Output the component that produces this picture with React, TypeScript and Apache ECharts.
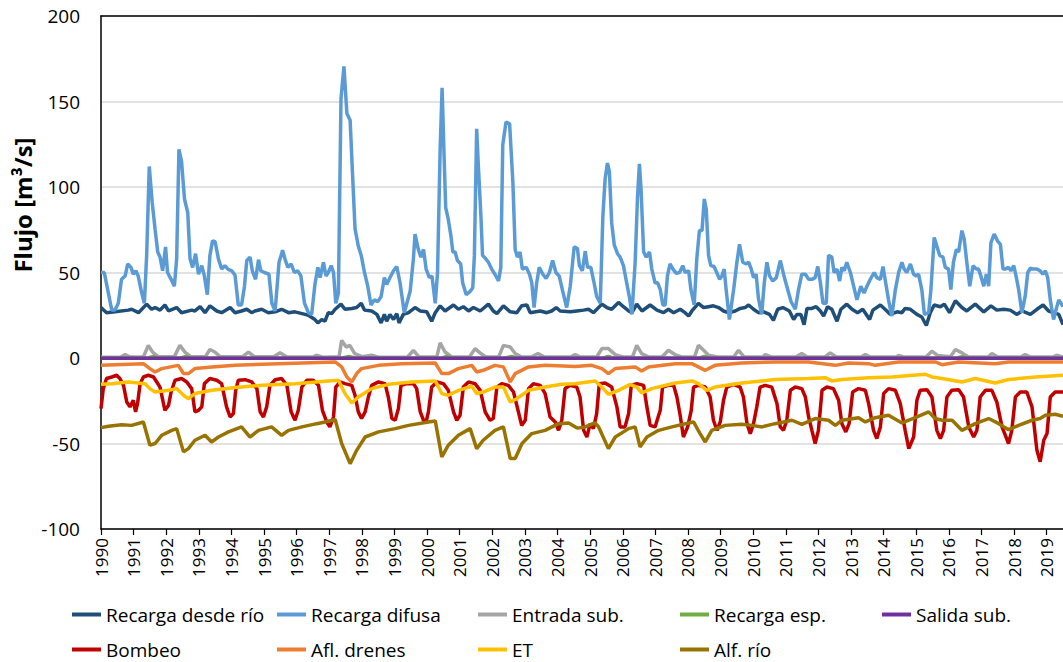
import React, { useEffect, useRef } from "react";
import * as echarts from "echarts";

type Pt = [number, number];

const yearTicks = { min: 1990, max: 2019.5, interval: 1 };
const yTicks = { min: -100, max: 200, interval: 50 };

const seriesNames = [
  "Recarga desde río",
  "Recarga difusa",
  "Entrada sub.",
  "Recarga esp.",
  "Salida sub.",
  "Bombeo",
  "Afl. drenes",
  "ET",
  "Alf. río",
];

const seriesColors = [
  "#1F4E79",
  "#5B9BD5",
  "#A5A5A5",
  "#70AD47",
  "#7030A0",
  "#C00000",
  "#ED7D31",
  "#FFC000",
  "#997300",
];

const recargaRio: Pt[] = [
  [1990.0, 29.5], [1990.17, 26.5], [1990.43, 27], [1990.84, 28], [1990.94, 28.5], [1991.15, 26.5], [1991.4, 31.5],
  [1991.55, 28.5], [1991.66, 29.5], [1991.81, 28], [1991.96, 31], [1992.07, 27.5], [1992.32, 29.5], [1992.47, 26.5],
  [1992.78, 28], [1992.88, 27.5], [1993.04, 30], [1993.19, 26.5], [1993.34, 30.5], [1993.55, 27.5], [1993.7, 26.5],
  [1993.96, 29.5], [1994.11, 26.5], [1994.31, 27.5], [1994.47, 28.5], [1994.62, 26.5], [1994.72, 27.5], [1994.93, 28.5],
  [1995.13, 26.5], [1995.34, 27], [1995.54, 28.5], [1995.75, 26.5], [1995.95, 27], [1996.26, 25.5], [1996.36, 25],
  [1996.56, 22.5], [1996.65, 20.5], [1996.77, 22.5], [1996.87, 21.5], [1996.97, 26.5], [1997.08, 26], [1997.18, 28.5],
  [1997.36, 31.5], [1997.48, 28.5], [1997.69, 29], [1997.84, 29.5], [1997.98, 32], [1998.08, 28], [1998.3, 27.5],
  [1998.46, 25.5], [1998.59, 20.5], [1998.69, 25.5], [1998.76, 21.5], [1998.86, 25.5], [1998.97, 22.5], [1999.07, 26],
  [1999.14, 20.5], [1999.27, 25.5], [1999.43, 26.5], [1999.63, 29.5], [1999.79, 27.5], [1999.99, 27], [2000.14, 21.5],
  [2000.25, 26.5], [2000.4, 30.5], [2000.55, 27.5], [2000.81, 31], [2000.96, 28.5], [2001.11, 30], [2001.27, 27.5],
  [2001.42, 29.5], [2001.63, 27.5], [2001.88, 31.5], [2002.03, 27.5], [2002.14, 26], [2002.34, 30.5], [2002.55, 27],
  [2002.75, 26.5], [2002.9, 30.5], [2003.06, 31], [2003.16, 26.5], [2003.47, 27.5], [2003.67, 26.5], [2003.82, 27.5],
  [2003.96, 29.5], [2004.08, 27.5], [2004.39, 27], [2004.59, 27.5], [2004.8, 28], [2004.95, 28.5], [2005.1, 26.5],
  [2005.36, 31.5], [2005.51, 29.5], [2005.66, 28.5], [2005.87, 32.5], [2006.02, 30], [2006.18, 27.5], [2006.28, 26.5],
  [2006.43, 31.5], [2006.59, 27.5], [2006.84, 31], [2007.05, 28], [2007.25, 26.5], [2007.4, 28.5], [2007.56, 26.5],
  [2007.76, 28.5], [2007.91, 26.5], [2008.02, 24.5], [2008.12, 27.5], [2008.32, 32], [2008.48, 29.5], [2008.63, 30],
  [2008.78, 30.5], [2008.94, 29.5], [2009.09, 27.5], [2009.24, 26.5], [2009.45, 27.5], [2009.6, 29], [2009.75, 29.5],
  [2009.86, 31], [2010.01, 28.5], [2010.16, 26.5], [2010.32, 27], [2010.5, 25.5], [2010.62, 22], [2010.75, 28.5],
  [2010.91, 29.5], [2011.11, 27.5], [2011.24, 22.5], [2011.34, 25.5], [2011.46, 25.5], [2011.56, 19.5], [2011.65, 29],
  [2011.8, 29], [2011.93, 30], [2012.06, 27.5], [2012.16, 24.5], [2012.28, 30], [2012.41, 28.5], [2012.57, 21.5],
  [2012.69, 28.5], [2012.87, 31.5], [2013.03, 28.5], [2013.2, 26.5], [2013.36, 28.5], [2013.57, 22.5], [2013.67, 28],
  [2013.9, 31], [2014.1, 27.5], [2014.2, 25.5], [2014.41, 27], [2014.56, 26.5], [2014.66, 29], [2014.82, 28.5],
  [2015.02, 25.5], [2015.17, 24], [2015.31, 19], [2015.43, 26.5], [2015.55, 31], [2015.74, 30], [2015.86, 31.5],
  [2016.02, 26.5], [2016.2, 33.5], [2016.4, 29.5], [2016.55, 27.5], [2016.81, 31.5], [2017.07, 27], [2017.29, 30.5],
  [2017.47, 28], [2017.68, 28.5], [2017.88, 28], [2018.09, 25.5], [2018.24, 27.5], [2018.5, 25.5], [2018.7, 28.5],
  [2018.89, 31], [2019.06, 27.5], [2019.21, 26.5], [2019.37, 25.5], [2019.5, 19.5],
];

const recargaDifusa: Pt[] = [
  [1990.0, 50], [1990.1, 50], [1990.33, 28], [1990.43, 28], [1990.53, 32], [1990.63, 46], [1990.74, 48], [1990.82, 55],
  [1990.92, 53], [1990.99, 49], [1991.07, 51], [1991.14, 48], [1991.25, 38], [1991.33, 32], [1991.4, 60], [1991.48, 112],
  [1991.57, 91], [1991.66, 75], [1991.74, 62], [1991.81, 59], [1991.89, 51], [1991.98, 65], [1992.04, 50], [1992.15, 46],
  [1992.25, 42], [1992.32, 58], [1992.39, 122], [1992.47, 115], [1992.56, 93], [1992.66, 85], [1992.73, 58], [1992.81, 53],
  [1992.9, 61], [1992.99, 49], [1993.09, 54], [1993.17, 48], [1993.26, 37], [1993.34, 60], [1993.42, 68.5], [1993.5, 68],
  [1993.6, 58], [1993.7, 52], [1993.8, 54], [1993.89, 52], [1994.01, 51], [1994.11, 48.5], [1994.21, 31], [1994.31, 31],
  [1994.4, 42], [1994.47, 57], [1994.57, 59], [1994.64, 51], [1994.74, 46], [1994.83, 57.5], [1994.9, 51], [1995.01, 50],
  [1995.15, 49], [1995.24, 32], [1995.34, 27.5], [1995.46, 56], [1995.57, 63], [1995.64, 58], [1995.73, 53], [1995.83, 55],
  [1995.93, 50], [1996.03, 51], [1996.13, 48], [1996.24, 32], [1996.36, 26.5], [1996.46, 25.5], [1996.56, 43], [1996.65, 53],
  [1996.72, 47], [1996.82, 56], [1996.9, 48], [1996.97, 50], [1997.06, 54], [1997.13, 50], [1997.2, 32], [1997.28, 38],
  [1997.36, 152], [1997.45, 170.5], [1997.54, 143], [1997.64, 139], [1997.71, 109], [1997.79, 75.5], [1997.89, 65.5],
  [1997.98, 60], [1998.08, 50], [1998.18, 42], [1998.28, 31], [1998.38, 34], [1998.49, 33], [1998.59, 36], [1998.69, 47],
  [1998.76, 43], [1998.86, 47], [1998.97, 51], [1999.07, 53.5], [1999.17, 44], [1999.3, 26.5], [1999.48, 39], [1999.58, 58],
  [1999.63, 72.5], [1999.73, 63.5], [1999.81, 59], [1999.89, 63.5], [1999.97, 52], [2000.07, 47], [2000.15, 48],
  [2000.25, 32], [2000.32, 50], [2000.4, 122], [2000.46, 158], [2000.52, 118.5], [2000.57, 88], [2000.65, 81],
  [2000.73, 71.5], [2000.79, 62], [2000.86, 62], [2000.93, 57], [2001.03, 55], [2001.09, 44], [2001.2, 37], [2001.32, 39],
  [2001.4, 41], [2001.45, 60], [2001.52, 134], [2001.57, 113], [2001.65, 83], [2001.7, 60], [2001.8, 58], [2001.88, 56],
  [2001.98, 52], [2002.08, 49], [2002.19, 45], [2002.26, 53], [2002.32, 124.5], [2002.42, 138], [2002.53, 137],
  [2002.63, 103], [2002.7, 63.5], [2002.77, 59], [2002.85, 62], [2002.92, 52], [2003.04, 53], [2003.14, 49], [2003.21, 44],
  [2003.28, 29.5], [2003.36, 44], [2003.44, 53], [2003.55, 49], [2003.65, 46.5], [2003.75, 50], [2003.85, 57], [2003.95, 50],
  [2004.05, 48], [2004.16, 39], [2004.28, 29.5], [2004.39, 42], [2004.51, 65], [2004.61, 64], [2004.67, 54], [2004.76, 51],
  [2004.85, 62.5], [2004.92, 53], [2005.02, 53], [2005.12, 44], [2005.2, 36], [2005.31, 32], [2005.39, 83], [2005.46, 105],
  [2005.53, 114], [2005.59, 109], [2005.66, 79], [2005.74, 66], [2005.84, 61], [2005.92, 59], [2006.02, 54], [2006.12, 44],
  [2006.21, 35], [2006.28, 25.5], [2006.38, 56], [2006.45, 93], [2006.51, 113.5], [2006.56, 99], [2006.64, 62],
  [2006.72, 59], [2006.82, 62], [2006.89, 52], [2006.99, 44], [2007.07, 44], [2007.15, 40], [2007.23, 31], [2007.3, 31],
  [2007.37, 48], [2007.45, 55], [2007.54, 52], [2007.64, 49.5], [2007.74, 50], [2007.84, 54], [2007.91, 50], [2008.02, 51],
  [2008.09, 40], [2008.19, 31], [2008.27, 58], [2008.35, 74.5], [2008.43, 74.5], [2008.5, 93], [2008.56, 87], [2008.63, 60],
  [2008.7, 54], [2008.8, 53.5], [2008.88, 50], [2008.97, 46], [2009.04, 48], [2009.11, 52], [2009.17, 40], [2009.27, 22.5],
  [2009.4, 40], [2009.5, 56], [2009.58, 66.5], [2009.68, 56], [2009.79, 55], [2009.86, 56], [2009.94, 52], [2010.01, 47],
  [2010.09, 49], [2010.16, 35], [2010.26, 25.5], [2010.34, 44], [2010.42, 56], [2010.5, 48], [2010.6, 45], [2010.71, 47],
  [2010.83, 57], [2010.93, 49], [2011.03, 42], [2011.16, 33], [2011.29, 28.5], [2011.39, 40], [2011.49, 49], [2011.6, 49],
  [2011.7, 46], [2011.8, 46], [2011.9, 47], [2011.98, 53.5], [2012.06, 44], [2012.14, 32], [2012.24, 32], [2012.31, 60],
  [2012.41, 59], [2012.48, 50], [2012.57, 52], [2012.65, 45], [2012.72, 53], [2012.79, 51], [2012.87, 56], [2012.98, 50],
  [2013.08, 42], [2013.18, 34], [2013.3, 42], [2013.4, 38], [2013.49, 42], [2013.59, 46], [2013.71, 50], [2013.79, 47],
  [2013.9, 46], [2013.98, 53.5], [2014.08, 42], [2014.15, 34], [2014.25, 24.5], [2014.36, 40], [2014.46, 50], [2014.56, 56],
  [2014.63, 52], [2014.71, 50], [2014.82, 55], [2014.92, 49], [2015.0, 48], [2015.07, 49], [2015.17, 40], [2015.25, 25.5],
  [2015.38, 26.5], [2015.45, 40], [2015.55, 70.5], [2015.63, 65.5], [2015.72, 60], [2015.82, 59], [2015.89, 53],
  [2015.99, 52], [2016.06, 40], [2016.14, 56], [2016.23, 63.5], [2016.3, 62], [2016.4, 74.5], [2016.47, 69.5],
  [2016.55, 56], [2016.64, 42], [2016.74, 54], [2016.84, 52], [2016.91, 52], [2016.98, 48], [2017.07, 42], [2017.15, 49],
  [2017.22, 42], [2017.29, 67.5], [2017.39, 72.5], [2017.49, 68.5], [2017.58, 66.5], [2017.66, 52], [2017.73, 52],
  [2017.83, 53], [2017.9, 51], [2017.99, 54], [2018.07, 47], [2018.14, 40], [2018.24, 26.5], [2018.34, 36], [2018.42, 50],
  [2018.5, 52.5], [2018.6, 52], [2018.7, 52], [2018.8, 51], [2018.88, 49], [2018.96, 51], [2019.03, 47], [2019.11, 34],
  [2019.21, 22.5], [2019.29, 28.5], [2019.37, 34], [2019.44, 32], [2019.5, 30],
];

const entradaSub: Pt[] = [
  [1990.0, 0.5], [1990.6, 0.6], [1990.74, 2], [1990.9, 0.6], [1991.3, 0.6], [1991.45, 7.4], [1991.58, 3.5], [1991.75, 0.8],
  [1992.25, 0.8], [1992.42, 7.4], [1992.57, 3.5], [1992.75, 0.8], [1993.2, 0.8], [1993.34, 5], [1993.49, 3.5], [1993.65, 0.8],
  [1994.35, 0.8], [1994.52, 3.5], [1994.7, 0.8], [1995.3, 0.8], [1995.49, 3], [1995.7, 0.6], [1996.5, 0.6], [1996.6, 1.6],
  [1996.8, 0.5], [1997.3, 0.8], [1997.38, 10.3], [1997.52, 6.4], [1997.63, 7.4], [1997.78, 2.6], [1998.0, 0.8], [1998.3, 1.6],
  [1998.5, 0.5], [1999.4, 0.6], [1999.58, 4.5], [1999.75, 0.6], [2000.3, 0.8], [2000.4, 8.8], [2000.55, 3.5], [2000.75, 0.6],
  [2001.3, 0.6], [2001.47, 5.5], [2001.62, 3], [2001.8, 0.6], [2002.2, 0.8], [2002.34, 7.4], [2002.55, 6.4], [2002.7, 2.6],
  [2002.9, 0.6], [2003.2, 0.6], [2003.4, 2.6], [2003.6, 0.6], [2004.4, 0.6], [2004.54, 2], [2004.7, 0.6], [2005.2, 0.6],
  [2005.36, 5.5], [2005.56, 5.5], [2005.77, 2], [2006.0, 0.6], [2006.3, 0.6], [2006.43, 7.4], [2006.58, 2.6], [2006.8, 0.6],
  [2007.2, 0.6], [2007.4, 4.5], [2007.6, 2], [2007.8, 0.6], [2008.2, 0.6], [2008.32, 7.4], [2008.48, 4.5], [2008.63, 1.6],
  [2008.9, 0.6], [2009.4, 0.6], [2009.55, 4.5], [2009.72, 0.6], [2010.3, 0.6], [2010.37, 2], [2010.55, 0.6], [2011.3, 0.6],
  [2011.49, 2.6], [2011.65, 0.6], [2012.2, 0.6], [2012.36, 3], [2012.55, 0.6], [2013.3, 0.6], [2013.44, 2], [2013.6, 0.6],
  [2014.4, 0.6], [2014.46, 1.6], [2014.6, 0.6], [2015.3, 0.6], [2015.48, 4], [2015.65, 1.5], [2016.05, 0.8], [2016.2, 5],
  [2016.4, 3], [2016.6, 0.6], [2017.2, 0.6], [2017.32, 2.6], [2017.5, 0.6], [2018.2, 0.6], [2018.34, 2], [2018.5, 0.6],
  [2019.2, 0.6], [2019.3, 1.6], [2019.5, 0.6],
];

const recargaEsp: Pt[] = [
  [1990.0, 0], [1991.45, 0], [1991.6, 0.9], [1991.75, 0], [1992.45, 0], [1992.6, 0.9], [1992.75, 0],
  [1997.4, 0], [1997.6, 0.9], [1997.8, 0], [2000.45, 0], [2000.6, 0.9], [2000.75, 0], [2002.4, 0],
  [2002.6, 0.9], [2002.75, 0], [2005.4, 0], [2005.55, 0.9], [2005.7, 0], [2008.35, 0], [2008.5, 0.9],
  [2008.65, 0], [2016.25, 0], [2016.4, 0.8], [2016.55, 0], [2019.5, 0],
];

const salidaSub: Pt[] = [
  [1990.0, -0.1], [1997.5, -0.2], [2005.0, -0.1], [2012.5, -0.1], [2019.5, -0.1],
];

const bombeo: Pt[] = [
  [1990.0, -29.6], [1990.07, -17.9], [1990.17, -12], [1990.33, -11.1], [1990.48, -10.1], [1990.58, -12], [1990.69, -16],
  [1990.79, -25.7], [1990.89, -28.6], [1990.99, -24.7], [1991.06, -31.5], [1991.12, -26.7], [1991.2, -15], [1991.3, -11.1],
  [1991.45, -10.1], [1991.61, -11.1], [1991.71, -14], [1991.81, -17], [1991.96, -30.6], [1992.07, -27.7], [1992.15, -19.9],
  [1992.27, -13], [1992.47, -12], [1992.63, -14], [1992.78, -17.9], [1992.88, -31.5], [1992.99, -30.6], [1993.09, -28.6],
  [1993.17, -15], [1993.34, -12], [1993.55, -13], [1993.7, -15], [1993.85, -28.6], [1993.96, -34.5], [1994.06, -32.5],
  [1994.13, -18.9], [1994.21, -13], [1994.42, -12.7], [1994.62, -14], [1994.78, -17.9], [1994.88, -31.5], [1994.98, -34.5],
  [1995.08, -28.6], [1995.18, -16], [1995.34, -12.7], [1995.54, -12], [1995.7, -16], [1995.83, -31.5], [1995.95, -36.4],
  [1996.05, -30.6], [1996.16, -17], [1996.31, -13], [1996.51, -13], [1996.67, -16], [1996.79, -30.6], [1996.92, -37.4],
  [1997.02, -40.3], [1997.13, -34.5], [1997.2, -17], [1997.33, -14], [1997.48, -15], [1997.69, -16], [1997.79, -21.8],
  [1997.89, -31.5], [1997.99, -35.4], [1998.1, -31.5], [1998.2, -22.8], [1998.3, -16], [1998.51, -14], [1998.71, -15],
  [1998.81, -22.8], [1998.92, -35.4], [1999.02, -36.4], [1999.12, -29.6], [1999.2, -16], [1999.38, -15], [1999.58, -15],
  [1999.68, -17.9], [1999.79, -31.5], [1999.89, -36.4], [1999.97, -37.4], [2000.04, -31.5], [2000.14, -17], [2000.3, -14],
  [2000.5, -15], [2000.65, -18.9], [2000.81, -31.5], [2000.91, -36.4], [2001.01, -33.5], [2001.11, -17], [2001.27, -14],
  [2001.47, -15], [2001.63, -18.9], [2001.78, -31.5], [2001.93, -36.4], [2002.03, -35.4], [2002.14, -17], [2002.29, -15],
  [2002.49, -16], [2002.65, -19.9], [2002.8, -31.5], [2002.9, -39.4], [2003.01, -36.4], [2003.11, -17.9], [2003.26, -15],
  [2003.47, -16], [2003.62, -20.8], [2003.77, -34.5], [2003.93, -37.4], [2004.03, -42.3], [2004.13, -36.4],
  [2004.23, -17.9], [2004.39, -16], [2004.59, -17], [2004.69, -22.8], [2004.8, -42.3], [2004.9, -46.2], [2005.0, -38.4],
  [2005.1, -41.3], [2005.2, -32.5], [2005.28, -15], [2005.46, -14.6], [2005.66, -17], [2005.82, -28.6], [2005.92, -40.3],
  [2006.07, -40.3], [2006.18, -32.5], [2006.26, -16], [2006.43, -15], [2006.64, -16], [2006.74, -28.6], [2006.84, -39.4],
  [2006.99, -40.3], [2007.15, -30.6], [2007.22, -17], [2007.4, -16], [2007.56, -16], [2007.66, -22.8], [2007.76, -33.5],
  [2007.86, -46.2], [2007.99, -40.3], [2008.1, -30.6], [2008.17, -17], [2008.32, -16], [2008.53, -17], [2008.68, -22.8],
  [2008.78, -36.4], [2008.89, -42.3], [2008.99, -37.4], [2009.09, -24.7], [2009.19, -17], [2009.4, -15.4], [2009.6, -17],
  [2009.7, -22.8], [2009.81, -38.4], [2009.91, -44.2], [2010.01, -38.4], [2010.11, -28.6], [2010.21, -17], [2010.37, -16],
  [2010.57, -17], [2010.73, -26.7], [2010.83, -40.3], [2010.93, -42.3], [2011.03, -36.4], [2011.14, -18.9],
  [2011.29, -17], [2011.49, -17.9], [2011.6, -22.8], [2011.7, -34.5], [2011.8, -42.3], [2011.9, -50], [2012.0, -42.3],
  [2012.11, -18.9], [2012.26, -17], [2012.46, -17.9], [2012.62, -24.7], [2012.72, -38.4], [2012.84, -43.2],
  [2012.94, -38.4], [2013.05, -19.9], [2013.23, -17.9], [2013.44, -18.9], [2013.54, -26.7], [2013.69, -42.3],
  [2013.79, -47.1], [2013.9, -40.3], [2014.0, -20.8], [2014.15, -17.9], [2014.36, -18.9], [2014.51, -26.7],
  [2014.66, -42.3], [2014.77, -53], [2014.92, -46.2], [2015.02, -24.7], [2015.12, -18.9], [2015.33, -18.5],
  [2015.48, -22.8], [2015.63, -42.3], [2015.74, -47.1], [2015.84, -42.3], [2015.94, -22.8], [2016.09, -18.9],
  [2016.3, -18.5], [2016.45, -22.8], [2016.61, -40.3], [2016.76, -46.2], [2016.86, -42.3], [2016.96, -22.8],
  [2017.12, -18.9], [2017.32, -18.9], [2017.47, -25.7], [2017.63, -40.3], [2017.83, -50], [2017.93, -42.3],
  [2018.04, -22.8], [2018.19, -19.9], [2018.39, -19.9], [2018.55, -28.6], [2018.7, -54], [2018.8, -60.7],
  [2018.91, -48.1], [2019.01, -44.2], [2019.11, -22.8], [2019.26, -19.9], [2019.5, -19.9],
];

const aflDrenes: Pt[] = [
  [1990.0, -4.3], [1991.3, -3.3], [1991.5, -6.2], [1991.66, -8.2], [1991.86, -6.2], [1992.37, -4.3], [1992.53, -9.1],
  [1992.68, -9.1], [1992.88, -6.2], [1993.4, -5.2], [1994.11, -4.3], [1995.44, -3.3], [1997.18, -2.3], [1997.38, -5.2],
  [1997.54, -11.1], [1997.69, -14], [1997.84, -9.1], [1997.99, -6.2], [1998.51, -4.3], [1999.22, -3.3], [2000.25, -2.9],
  [2000.45, -9.1], [2000.65, -9.1], [2000.96, -6.2], [2001.37, -4.3], [2001.52, -8.2], [2001.72, -7.2], [2002.08, -4.3],
  [2002.34, -5.2], [2002.55, -14], [2002.7, -9.1], [2003.11, -5.2], [2003.62, -4.3], [2004.54, -4.9], [2005.05, -4.3],
  [2005.36, -6.2], [2005.56, -9.1], [2005.77, -6.2], [2006.38, -5.2], [2006.58, -7.6], [2006.79, -5.2], [2007.61, -3.3],
  [2008.12, -3.3], [2008.53, -7.2], [2008.83, -4.3], [2009.65, -2.9], [2010.67, -2.3], [2011.7, -2.3], [2012.52, -4.3],
  [2012.92, -2.9], [2013.54, -3.3], [2013.74, -4.3], [2014.46, -2.3], [2015.58, -2.3], [2015.79, -3.9], [2016.3, -2.3],
  [2017.42, -3.3], [2017.83, -2.3], [2019.5, -2.3],
];

const et: Pt[] = [
  [1990.0, -15.4], [1990.33, -15], [1990.84, -14], [1991.35, -15], [1991.5, -17.9], [1991.66, -19.9], [1992.07, -18.9],
  [1992.32, -17.9], [1992.53, -21.8], [1992.68, -23.8], [1992.88, -20.8], [1993.4, -18.9], [1994.11, -17.3],
  [1994.93, -16], [1995.95, -15], [1996.97, -13.4], [1997.28, -13], [1997.48, -20.8], [1997.69, -26.3], [1997.89, -22.8],
  [1998.3, -17.9], [1998.82, -15.4], [1999.53, -14], [2000.25, -13.4], [2000.45, -20.8], [2000.65, -21.8],
  [2000.96, -18.9], [2001.37, -16.5], [2001.52, -20.8], [2001.72, -19.9], [2002.08, -17], [2002.34, -17], [2002.55, -25.7],
  [2002.75, -23.8], [2003.11, -18.9], [2003.62, -17], [2004.13, -15.4], [2004.54, -15], [2005.15, -13.4], [2005.36, -17],
  [2005.56, -21.2], [2005.87, -18.9], [2006.23, -15.4], [2006.43, -17], [2006.58, -20.4], [2006.89, -17.9],
  [2007.61, -14.6], [2008.12, -13.4], [2008.32, -15], [2008.58, -18.9], [2008.83, -17], [2009.65, -14.6],
  [2010.67, -12.6], [2011.7, -12], [2012.21, -11.5], [2012.41, -13.4], [2012.72, -12.6], [2013.54, -11.5],
  [2014.25, -11.1], [2015.28, -9.5], [2015.48, -11.1], [2015.79, -12], [2016.4, -14], [2016.81, -12], [2017.42, -14.6],
  [2017.83, -12.6], [2018.65, -11.1], [2019.5, -10.1],
];

const alfRio: Pt[] = [
  [1990.0, -40.7], [1990.23, -39.9], [1990.63, -39], [1990.94, -39.4], [1991.3, -37.4], [1991.5, -51], [1991.66, -50],
  [1991.86, -45.2], [1992.17, -42.3], [1992.32, -41.3], [1992.53, -54.9], [1992.68, -53], [1992.88, -48.1],
  [1993.19, -45.2], [1993.39, -49.1], [1993.6, -46.2], [1993.91, -43.2], [1994.31, -40.3], [1994.57, -46.2],
  [1994.83, -42.3], [1995.23, -40.3], [1995.54, -45.2], [1995.75, -42.3], [1996.16, -40.3], [1996.62, -38.4],
  [1996.87, -37.4], [1997.18, -36], [1997.38, -50], [1997.64, -61.8], [1997.84, -54], [1998.1, -46.2], [1998.51, -43.2],
  [1999.02, -41.3], [1999.43, -39.4], [2000.04, -37.4], [2000.25, -36.8], [2000.45, -57.9], [2000.65, -51],
  [2000.96, -45.2], [2001.32, -41.3], [2001.52, -53], [2001.72, -48.1], [2002.08, -42.3], [2002.34, -40.3],
  [2002.55, -58.8], [2002.7, -58.8], [2002.91, -50], [2003.21, -44.2], [2003.62, -42.3], [2004.03, -38.4], [2004.34, -38],
  [2004.6, -41], [2004.85, -40.3], [2005.15, -38], [2005.26, -40.3], [2005.56, -53], [2005.77, -46.2], [2006.18, -41.3],
  [2006.38, -40.3], [2006.53, -52], [2006.74, -46.2], [2007.1, -42.3], [2007.51, -40.3], [2008.02, -38], [2008.17, -37.4],
  [2008.37, -44.2], [2008.53, -49.1], [2008.73, -42.3], [2009.14, -39.4], [2009.65, -38.8], [2009.96, -39.4],
  [2010.27, -40.3], [2010.67, -38.4], [2011.19, -36.4], [2011.49, -38.8], [2011.9, -35.4], [2012.31, -36.4],
  [2012.52, -39.4], [2012.72, -36.4], [2013.23, -34.9], [2013.44, -37.4], [2013.74, -34.9], [2014.15, -33.5],
  [2014.56, -38], [2014.97, -34.9], [2015.38, -31.5], [2015.58, -35.4], [2015.79, -36.4], [2016.1, -36.4],
  [2016.4, -42.3], [2016.81, -38.4], [2017.22, -35.4], [2017.53, -38.4], [2017.83, -41.9], [2018.14, -39.4],
  [2018.55, -36.4], [2018.8, -35.4], [2018.96, -33.5], [2019.26, -32.9], [2019.5, -34.1],
];

const seriesData: Pt[][] = [
  recargaRio, recargaDifusa, entradaSub, recargaEsp, salidaSub, bombeo, aflDrenes, et, alfRio,
];

// legend layout: [left, top] of each item
const legendPos: [number, number][] = [
  [72, 605], [277, 605], [478, 605], [680, 605], [882, 605],
  [72, 640], [277, 640], [478, 640], [680, 640],
];

const FONT = "'Open Sans', Lato, sans-serif";

export default function App() {
  const ref = useRef<HTMLDivElement>(null);

  useEffect(() => {
    if (!ref.current) return;
    const chart = echarts.init(ref.current, null, { renderer: "svg" });
    const option: any = {
      animation: false,
      backgroundColor: "#ffffff",
      textStyle: { fontFamily: FONT },
      grid: { left: 101, right: 0, top: 16, bottom: 133, containLabel: false },
      xAxis: [
        {
          type: "value",
          min: yearTicks.min,
          max: yearTicks.max,
          interval: yearTicks.interval,
          position: "bottom",
          axisLine: { show: true, onZero: false, lineStyle: { color: "#000", width: 1.5 } },
          axisTick: { show: true, inside: false, length: 6, lineStyle: { color: "#000", width: 1.2 } },
          axisLabel: {
            rotate: 90,
            fontSize: 17,
            color: "#000",
            fontFamily: FONT,
            margin: 9,
            showMaxLabel: false,
            formatter: (v: number) => (Number.isInteger(v) ? String(v) : ""),
          },
          splitLine: { show: false },
        },
        {
          type: "value",
          min: yearTicks.min,
          max: yearTicks.max,
          position: "top",
          axisLine: { show: true, onZero: false, lineStyle: { color: "#000", width: 1.5 } },
          axisTick: { show: false },
          axisLabel: { show: false },
          splitLine: { show: false },
        },
      ],
      yAxis: {
        type: "value",
        min: yTicks.min,
        max: yTicks.max,
        interval: yTicks.interval,
        axisLine: { show: true, onZero: false, lineStyle: { color: "#000", width: 1.5 } },
        axisTick: { show: false },
        axisLabel: { fontSize: 19, color: "#000", fontFamily: FONT, margin: 21 },
        splitLine: { show: true, lineStyle: { color: "#d9d9d9", width: 1.5 } },
      },
      legend: seriesNames.map((name, i) => ({
        data: [name],
        left: legendPos[i][0],
        top: legendPos[i][1],
        icon: "rect",
        itemWidth: 29,
        itemHeight: 4,
        padding: 0,
        itemGap: 0,
        selectedMode: false,
        textStyle: { fontSize: 19, color: "#000", fontFamily: FONT },
      })),
      graphic: [
        {
          type: "text",
          x: 22,
          y: 205,
          rotation: Math.PI / 2,
          style: {
            text: "Flujo [m³/s]",
            font: `bold 24px ${FONT}`,
            fill: "#000",
            textAlign: "center",
            textVerticalAlign: "middle",
            align: "center",
            verticalAlign: "middle",
          },
        },
      ],
      series: seriesNames.map((name, i) => ({
        name,
        type: "line",
        xAxisIndex: 0,
        data: seriesData[i],
        showSymbol: false,
        symbol: "none",
        lineStyle: { color: seriesColors[i], width: 3.5 },
        itemStyle: { color: seriesColors[i] },
        emphasis: { disabled: true },
        z: 2 + i,
      })),
    };
    chart.setOption(option);
    return () => chart.dispose();
  }, []);

  return (
    <div
      ref={ref}
      style={{ position: "fixed", left: 0, top: 0, width: 1063, height: 662, background: "#fff" }}
    />
  );
}
